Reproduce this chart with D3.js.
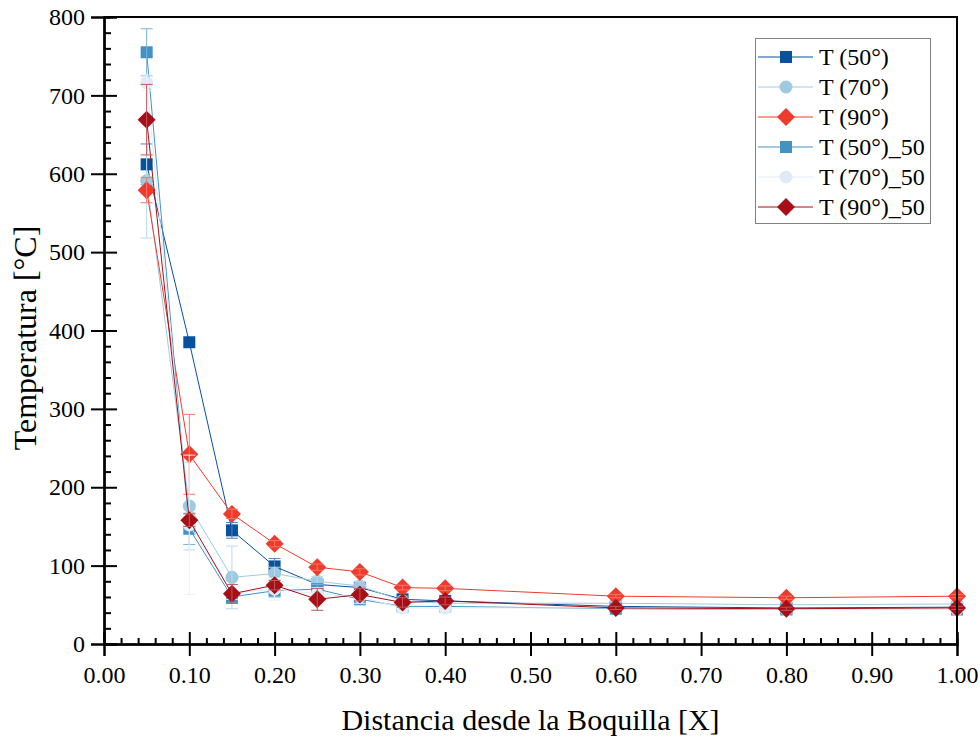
<!DOCTYPE html>
<html>
<head>
<meta charset="utf-8">
<script src="https://cdn.jsdelivr.net/npm/d3@7"></script>
<style>
  html, body { margin: 0; padding: 0; background: #fff; }
</style>
</head>
<body>
<svg id="chart" width="980" height="740"></svg>
<script>
// Distance from the nozzle (fraction of X)
const distances = [0.05, 0.10, 0.15, 0.20, 0.25, 0.30, 0.35, 0.40, 0.60, 0.80, 1.00];

// Temperatures [°C] and their error (±)
const t50      = [612, 385, 145,  99, 76, 72, 57, 55, 48, 46, 47];
const t50Err   = [ 26,   0,  10,  10,  6,  6,  4,  3,  2,  2,  2];
const t70      = [591, 176,  85,  90, 80, 74, 55, 52, 52, 50, 51];
const t70Err   = [ 73,  56,  40,   8,  6,  6,  4,  3,  2,  2,  2];
const t90      = [579, 242, 166, 128, 98, 92, 72, 71, 61, 59, 61];
const t90Err   = [ 16,  51,   6,   4,  4,  4,  3,  3,  2,  2,  2];
const t50b     = [755, 147,  60,  68, 70, 57, 48, 48, 45, 44, 44];
const t50bErr  = [ 30,  20,   8,   8,  6,  6,  4,  4,  2,  2,  2];
const t70b     = [716, 152,  65,  70, 64, 60, 46, 46, 46, 44, 44];
const t70bErr  = [ 10,  89,   8,  14,  8,  8,  5,  4,  2,  2,  2];
const t90b     = [669, 158,  64,  75, 57, 63, 53, 55, 46, 45, 46];
const t90bErr  = [ 45,   8,  12,   6, 14,  8,  6,  5,  2,  2,  2];

const seriesNames = ["T (50°)", "T (70°)", "T (90°)", "T (50°)_50", "T (70°)_50", "T (90°)_50"];
const xTickValues = [0, 0.1, 0.2, 0.3, 0.4, 0.5, 0.6, 0.7, 0.8, 0.9, 1.0];
const yTickValues = [0, 100, 200, 300, 400, 500, 600, 700, 800];

const series = [
  { name: seriesNames[0], values: t50,  err: t50Err,  color: "#08519c", shape: "square" },
  { name: seriesNames[1], values: t70,  err: t70Err,  color: "#9ecae1", shape: "circle" },
  { name: seriesNames[2], values: t90,  err: t90Err,  color: "#ef3b2c", shape: "diamond" },
  { name: seriesNames[3], values: t50b, err: t50bErr, color: "#4292c6", shape: "square" },
  { name: seriesNames[4], values: t70b, err: t70bErr, color: "#deebf7", shape: "circle" },
  { name: seriesNames[5], values: t90b, err: t90bErr, color: "#a50f15", shape: "diamond" }
];

const SERIF = "font-family: 'Liberation Serif', 'Times New Roman', Times, serif;";

const svg = d3.select("#chart");
const plotLeft = 104, plotRight = 957, plotTop = 17, plotBottom = 644;

const x = d3.scaleLinear().domain([0, 1]).range([plotLeft, plotRight]);
const y = d3.scaleLinear().domain([0, 800]).range([plotBottom, plotTop]);

function symbolPath(shape) {
  if (shape === "square") return d3.symbol(d3.symbolSquare, 144)();
  if (shape === "circle") return d3.symbol(d3.symbolCircle, 133)();
  return d3.symbol(d3.symbolSquare, 162)();
}
function symbolTransform(shape, px, py) {
  return shape === "diamond" ? `translate(${px},${py}) rotate(45)` : `translate(${px},${py})`;
}

// Lines, markers and error bars per series
const plot = svg.append("g");
series.forEach(s => {
  const pts = distances.map((d, i) => ({ x: d, v: s.values[i], e: s.err[i] }));
  const g = plot.append("g");
  g.append("path")
    .datum(pts)
    .attr("fill", "none")
    .attr("stroke", s.color)
    .attr("stroke-width", 1)
    .attr("d", d3.line().x(p => x(p.x)).y(p => y(p.v)));

  g.selectAll("path.mk").data(pts).join("path")
    .attr("class", "mk")
    .attr("d", symbolPath(s.shape))
    .attr("transform", p => symbolTransform(s.shape, x(p.x), y(p.v)))
    .attr("fill", s.color);

  const barColor = d3.interpolateRgb(s.color, "#ffffff")(0.3);
  const eb = g.selectAll("g.eb").data(pts.filter(p => p.e > 0)).join("g").attr("class", "eb")
    .attr("stroke", barColor).attr("stroke-width", 1);
  eb.append("line")
    .attr("x1", p => x(p.x)).attr("x2", p => x(p.x))
    .attr("y1", p => y(p.v + p.e)).attr("y2", p => y(p.v - p.e));
  eb.append("line")
    .attr("x1", p => x(p.x) - 6).attr("x2", p => x(p.x) + 6)
    .attr("y1", p => y(p.v + p.e)).attr("y2", p => y(p.v + p.e));
  eb.append("line")
    .attr("x1", p => x(p.x) - 6).attr("x2", p => x(p.x) + 6)
    .attr("y1", p => y(p.v - p.e)).attr("y2", p => y(p.v - p.e));
});

// Frame (top and right)
svg.append("path")
  .attr("d", `M${plotLeft},${plotTop}H${plotRight}V${plotBottom}`)
  .attr("fill", "none").attr("stroke", "#000").attr("stroke-width", 2);

// Axes: labels with outward major ticks
const fmtX = d3.format(".2f");
svg.append("g").attr("transform", `translate(0,${plotBottom})`)
  .call(d3.axisBottom(x).tickValues(xTickValues).tickFormat(fmtX).tickSize(12).tickPadding(10));
svg.append("g").attr("transform", `translate(${plotLeft},0)`)
  .call(d3.axisLeft(y).tickValues(yTickValues).tickSize(13).tickPadding(6));

// Inward major ticks
svg.append("g").attr("transform", `translate(0,${plotBottom})`)
  .call(d3.axisTop(x).tickValues(xTickValues).tickSize(12).tickFormat(""));
svg.append("g").attr("transform", `translate(${plotLeft},0)`)
  .call(d3.axisRight(y).tickValues(yTickValues).tickSize(13).tickFormat(""));

// Inward minor ticks
const xMinor = d3.range(0, 1.0001, 0.02).filter(v => Math.abs(v * 10 - Math.round(v * 10)) > 1e-6);
const yMinor = d3.range(0, 801, 20).filter(v => v % 100 !== 0);
svg.append("g").attr("transform", `translate(0,${plotBottom})`)
  .call(d3.axisTop(x).tickValues(xMinor).tickSize(6).tickFormat(""));
svg.append("g").attr("transform", `translate(${plotLeft},0)`)
  .call(d3.axisRight(y).tickValues(yMinor).tickSize(7).tickFormat(""));

svg.selectAll(".domain").attr("stroke", "#000").attr("stroke-width", 2);
svg.selectAll(".tick line").attr("stroke", "#000").attr("stroke-width", 2);
svg.selectAll(".tick text")
  .attr("fill", "#000")
  .attr("style", SERIF + " font-size: 24px;");

// Axis titles
svg.append("text")
  .attr("x", (plotLeft + plotRight) / 2).attr("y", 730)
  .attr("text-anchor", "middle")
  .attr("style", SERIF + " font-size: 30px;")
  .text("Distancia desde la Boquilla [X]");
svg.append("text")
  .attr("transform", "translate(36,338) rotate(-90)")
  .attr("text-anchor", "middle")
  .attr("style", SERIF + " font-size: 32px;")
  .text("Temperatura [°C]");

// Legend
const lg = svg.append("g");
lg.append("rect")
  .attr("x", 755.5).attr("y", 38.5).attr("width", 175).attr("height", 185)
  .attr("fill", "#fff").attr("stroke", "#808080").attr("stroke-width", 1);
series.forEach((s, i) => {
  const cy = 57 + i * 30;
  lg.append("line").attr("x1", 758).attr("x2", 813).attr("y1", cy).attr("y2", cy)
    .attr("stroke", s.color).attr("stroke-width", 1);
  lg.append("path").attr("d", symbolPath(s.shape))
    .attr("transform", symbolTransform(s.shape, 786, cy)).attr("fill", s.color);
  lg.append("text").attr("x", 819).attr("y", cy + 8)
    .attr("style", SERIF + " font-size: 24px;")
    .text(s.name);
});
</script>
</body>
</html>
